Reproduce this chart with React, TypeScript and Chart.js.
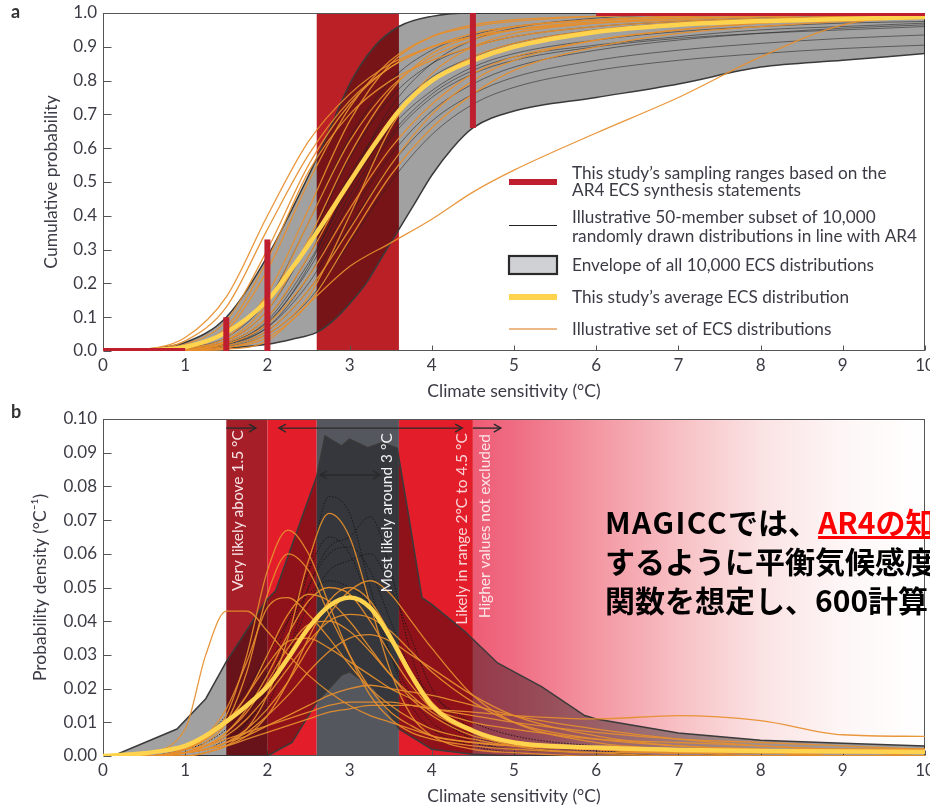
import React, { useEffect, useRef } from 'react';
import { Chart, registerables } from 'chart.js';

Chart.register(...registerables);

const FONT = 'Lato, "Open Sans", sans-serif';

// ---------- shared axis data ----------
const xTickValues = [0, 1, 2, 3, 4, 5, 6, 7, 8, 9, 10];
const yTickLabelsA = ['0.0', '0.1', '0.2', '0.3', '0.4', '0.5', '0.6', '0.7', '0.8', '0.9', '1.0'];
const yTickLabelsB = ['0.00', '0.01', '0.02', '0.03', '0.04', '0.05', '0.06', '0.07', '0.08', '0.09', '0.10'];

// ---------- panel a : cumulative probability ----------
const gridA = [0, 0.5, 1, 1.5, 2, 2.5, 3, 3.5, 4, 4.5, 5, 6, 7, 8, 9, 10];
const meanAX = [0, 0.5, 1, 1.5, 2, 2.3, 2.6, 3, 3.3, 3.6, 4, 4.5, 5, 6, 7, 8, 9, 10];
const meanA = [0, 0.002, 0.012, 0.055, 0.15, 0.245, 0.35, 0.5, 0.61, 0.71, 0.8, 0.86, 0.9, 0.944, 0.965, 0.976, 0.982, 0.988];

const envLowerAX = [0, 1, 1.5, 2, 2.3, 2.6, 2.8, 3, 3.2, 3.4, 3.6, 3.8, 4, 4.25, 4.5, 5, 6, 7, 8, 9, 10];
const envLowerA = [0, 0.003, 0.008, 0.02, 0.035, 0.055, 0.09, 0.14, 0.2, 0.28, 0.36, 0.44, 0.52, 0.6, 0.66, 0.71, 0.75, 0.79, 0.84, 0.86, 0.88];
const envUpperAX = [0, 0.5, 1, 1.5, 2, 2.3, 2.6, 2.8, 3, 3.3, 3.6, 4, 4.5, 10];
const envUpperA = [0, 0.005, 0.025, 0.1, 0.28, 0.42, 0.57, 0.68, 0.79, 0.9, 0.96, 0.99, 1, 1];

const subsetA1 = [0, 0.001, 0.005, 0.02, 0.08, 0.25, 0.5, 0.72, 0.85, 0.92, 0.955, 0.985, 0.995, 1, 1, 1];
const subsetA2 = [0, 0.001, 0.006, 0.025, 0.1, 0.28, 0.52, 0.7, 0.81, 0.87, 0.91, 0.95, 0.97, 0.98, 0.985, 0.99];
const subsetA3 = [0, 0.001, 0.004, 0.02, 0.07, 0.2, 0.4, 0.58, 0.71, 0.79, 0.84, 0.89, 0.92, 0.94, 0.955, 0.965];
const subsetA4 = [0, 0.002, 0.008, 0.03, 0.12, 0.32, 0.57, 0.75, 0.85, 0.9, 0.93, 0.96, 0.975, 0.985, 0.99, 0.995];
const subsetA5 = [0, 0.001, 0.003, 0.015, 0.06, 0.18, 0.37, 0.55, 0.68, 0.76, 0.81, 0.86, 0.89, 0.91, 0.925, 0.935];
const subsetA6 = [0, 0.001, 0.005, 0.02, 0.09, 0.26, 0.48, 0.66, 0.77, 0.84, 0.88, 0.92, 0.945, 0.96, 0.97, 0.975];
const subsetA7 = [0, 0.001, 0.004, 0.018, 0.07, 0.22, 0.44, 0.63, 0.75, 0.82, 0.86, 0.9, 0.925, 0.94, 0.95, 0.96];
const subsetA8 = [0, 0.002, 0.01, 0.04, 0.15, 0.38, 0.63, 0.8, 0.89, 0.935, 0.96, 0.98, 0.99, 0.995, 1, 1];
const subsetA9 = [0, 0.001, 0.003, 0.012, 0.05, 0.15, 0.32, 0.5, 0.64, 0.73, 0.78, 0.83, 0.86, 0.88, 0.895, 0.905];
const subsetA10 = [0, 0.001, 0.005, 0.022, 0.085, 0.24, 0.46, 0.64, 0.76, 0.83, 0.87, 0.905, 0.93, 0.95, 0.96, 0.97];
const subsetA = [subsetA1, subsetA2, subsetA3, subsetA4, subsetA5, subsetA6, subsetA7, subsetA8, subsetA9, subsetA10];

const orangeA1 = [0, 0.005, 0.04, 0.16, 0.4, 0.62, 0.76, 0.85, 0.9, 0.93, 0.95, 0.97, 0.98, 0.99, 0.995, 1];
const orangeA2 = [0, 0.003, 0.03, 0.13, 0.36, 0.58, 0.74, 0.84, 0.9, 0.93, 0.95, 0.97, 0.985, 0.99, 0.995, 1];
const orangeA3 = [0, 0.002, 0.02, 0.09, 0.3, 0.55, 0.73, 0.84, 0.9, 0.94, 0.96, 0.98, 0.99, 0.995, 0.998, 1];
const orangeA4 = [0, 0.001, 0.01, 0.06, 0.24, 0.5, 0.72, 0.86, 0.93, 0.96, 0.975, 0.99, 0.995, 1, 1, 1];
const orangeA5 = [0, 0.001, 0.008, 0.04, 0.17, 0.42, 0.68, 0.85, 0.93, 0.965, 0.98, 0.99, 0.995, 1, 1, 1];
const orangeA6 = [0, 0, 0.005, 0.03, 0.12, 0.33, 0.58, 0.77, 0.88, 0.93, 0.96, 0.98, 0.99, 0.995, 1, 1];
const orangeA7 = [0, 0, 0.004, 0.025, 0.1, 0.28, 0.5, 0.68, 0.8, 0.87, 0.91, 0.95, 0.97, 0.98, 0.99, 0.995];
const orangeA8 = [0, 0, 0.003, 0.02, 0.08, 0.22, 0.42, 0.6, 0.73, 0.82, 0.87, 0.92, 0.95, 0.97, 0.98, 0.99];
const orangeA9 = [0, 0, 0.002, 0.015, 0.06, 0.18, 0.36, 0.55, 0.7, 0.8, 0.86, 0.92, 0.95, 0.97, 0.98, 0.99];
const orangeA10 = [0, 0, 0.002, 0.01, 0.05, 0.16, 0.4, 0.66, 0.82, 0.9, 0.94, 0.97, 0.985, 0.99, 0.995, 1];
const orangeA11 = [0, 0, 0.001, 0.01, 0.04, 0.14, 0.33, 0.52, 0.66, 0.76, 0.83, 0.9, 0.94, 0.96, 0.975, 0.985];
const orangeA12 = [0, 0, 0.001, 0.005, 0.03, 0.14, 0.25, 0.32, 0.39, 0.47, 0.535, 0.645, 0.75, 0.87, 0.965, 0.995];
const orangeA13 = [0, 0.002, 0.015, 0.07, 0.27, 0.53, 0.7, 0.8, 0.86, 0.9, 0.93, 0.96, 0.975, 0.985, 0.99, 0.995];
const orangeA14 = [0, 0, 0.004, 0.03, 0.14, 0.38, 0.62, 0.78, 0.87, 0.92, 0.95, 0.975, 0.99, 0.995, 1, 1];
const orangeA = [orangeA1, orangeA2, orangeA3, orangeA4, orangeA5, orangeA6, orangeA7, orangeA8, orangeA9, orangeA10, orangeA11, orangeA12, orangeA13, orangeA14];

// AR4 sampling ranges (red bars)
const samplingX = [[0, 1], [1.5, 1.5], [2, 2], [4.5, 4.5], [6, 10]];
const samplingY = [[0, 0], [0, 0.1], [0, 0.33], [0.66, 1], [1, 1]];
const bandA = [2.6, 3.6];

const legendTexts = [
  ['This study’s sampling ranges based on the', 'AR4 ECS synthesis statements'],
  ['Illustrative 50-member subset of 10,000', 'randomly drawn distributions in line with AR4'],
  ['Envelope of all 10,000 ECS distributions'],
  ['This study’s average ECS distribution'],
  ['Illustrative set of ECS distributions'],
];

// ---------- panel b : probability density ----------
const gridB = [0, 0.5, 1, 1.25, 1.5, 1.75, 2, 2.25, 2.5, 2.75, 3, 3.25, 3.5, 3.75, 4, 4.5, 5, 6, 7, 8, 9, 10];
const meanB = [0, 0.0008, 0.003, 0.006, 0.0102, 0.015, 0.0206, 0.029, 0.038, 0.0445, 0.047, 0.044, 0.035, 0.024, 0.015, 0.0075, 0.004, 0.0025, 0.0018, 0.0015, 0.0013, 0.0012];

const envUpperBX = [0, 0.12, 0.9, 1.25, 1.5, 1.98, 2.1, 2.6, 2.7, 2.9, 3.0, 3.22, 3.4, 3.58, 3.72, 3.88, 4.0, 4.4, 4.8, 5.34, 5.86, 6, 7, 8, 9, 10];
const envUpperB = [0, 0, 0.008, 0.017, 0.028, 0.046, 0.049, 0.083, 0.095, 0.092, 0.094, 0.0915, 0.093, 0.0913, 0.071, 0.047, 0.045, 0.037, 0.0276, 0.0205, 0.012, 0.011, 0.0068, 0.0047, 0.0038, 0.003];
const envLowerBX = [0, 2.0, 2.3, 2.6, 2.9, 3.0, 3.3, 3.6, 4.0, 4.5, 5, 10];
const envLowerB = [0, 0, 0.004, 0.016, 0.024, 0.025, 0.02, 0.008, 0.002, 0.0005, 0, 0];

const subsetB1 = [0, 0, 0.001, 0.002, 0.004, 0.01, 0.02, 0.035, 0.055, 0.077, 0.072, 0.05, 0.03, 0.015, 0.008, 0.003, 0.001, 0, 0, 0, 0, 0];
const subsetB2 = [0, 0, 0, 0.001, 0.003, 0.007, 0.015, 0.03, 0.05, 0.062, 0.065, 0.071, 0.055, 0.03, 0.015, 0.005, 0.002, 0.001, 0, 0, 0, 0];
const subsetB3 = [0, 0, 0.001, 0.003, 0.006, 0.012, 0.022, 0.035, 0.05, 0.06, 0.062, 0.055, 0.04, 0.025, 0.014, 0.006, 0.003, 0.001, 0, 0, 0, 0];
const subsetB4 = [0, 0, 0.001, 0.002, 0.005, 0.01, 0.018, 0.03, 0.045, 0.055, 0.058, 0.06, 0.05, 0.035, 0.02, 0.008, 0.004, 0.0015, 0.001, 0, 0, 0];
const subsetB5 = [0, 0.001, 0.003, 0.006, 0.012, 0.02, 0.03, 0.04, 0.048, 0.052, 0.05, 0.045, 0.035, 0.025, 0.018, 0.01, 0.006, 0.003, 0.002, 0.001, 0.001, 0.001];
const subsetB6 = [0, 0, 0.002, 0.004, 0.008, 0.015, 0.025, 0.04, 0.055, 0.065, 0.06, 0.045, 0.03, 0.018, 0.01, 0.004, 0.002, 0.001, 0, 0, 0, 0];
const subsetB = [subsetB1, subsetB2, subsetB3, subsetB4, subsetB5, subsetB6];

const orangeB1 = [0, 0, 0.002, 0.005, 0.012, 0.03, 0.055, 0.067, 0.06, 0.045, 0.03, 0.018, 0.011, 0.007, 0.005, 0.003, 0.002, 0.001, 0.001, 0, 0, 0];
const orangeB2 = [0, 0, 0.001, 0.004, 0.01, 0.025, 0.048, 0.06, 0.055, 0.042, 0.03, 0.02, 0.013, 0.009, 0.006, 0.004, 0.003, 0.002, 0.001, 0.001, 0.001, 0.001];
const orangeB3 = [0, 0, 0, 0.001, 0.003, 0.008, 0.018, 0.035, 0.058, 0.072, 0.065, 0.045, 0.025, 0.012, 0.006, 0.002, 0.001, 0, 0, 0, 0, 0];
const orangeB4 = [0, 0.001, 0.008, 0.03, 0.043, 0.043, 0.037, 0.03, 0.024, 0.019, 0.015, 0.012, 0.01, 0.008, 0.006, 0.004, 0.003, 0.002, 0.001, 0.001, 0.001, 0.001];
const orangeB5 = [0, 0, 0.001, 0.002, 0.004, 0.008, 0.014, 0.022, 0.032, 0.042, 0.049, 0.052, 0.048, 0.04, 0.032, 0.018, 0.01, 0.004, 0.002, 0.001, 0.001, 0];
const orangeB6 = [0, 0, 0.001, 0.003, 0.007, 0.014, 0.024, 0.036, 0.046, 0.05, 0.048, 0.04, 0.03, 0.021, 0.014, 0.007, 0.004, 0.002, 0.001, 0.001, 0, 0];
const orangeB7 = [0, 0, 0.002, 0.005, 0.01, 0.018, 0.03, 0.042, 0.048, 0.046, 0.04, 0.032, 0.024, 0.017, 0.012, 0.006, 0.004, 0.002, 0.001, 0.001, 0, 0];
const orangeB8 = [0, 0, 0.001, 0.003, 0.006, 0.011, 0.018, 0.026, 0.034, 0.04, 0.042, 0.041, 0.037, 0.031, 0.025, 0.016, 0.01, 0.005, 0.003, 0.002, 0.001, 0.001];
const orangeB9 = [0, 0, 0.001, 0.002, 0.004, 0.007, 0.012, 0.018, 0.025, 0.031, 0.035, 0.036, 0.034, 0.03, 0.026, 0.018, 0.012, 0.006, 0.003, 0.002, 0.001, 0.001];
const orangeB10 = [0, 0, 0.001, 0.002, 0.004, 0.006, 0.009, 0.012, 0.015, 0.018, 0.02, 0.021, 0.02, 0.019, 0.018, 0.015, 0.012, 0.008, 0.005, 0.003, 0.002, 0.002];
const orangeB11 = [0, 0.001, 0.002, 0.003, 0.005, 0.007, 0.009, 0.011, 0.013, 0.015, 0.016, 0.016, 0.016, 0.015, 0.014, 0.012, 0.01, 0.007, 0.005, 0.004, 0.003, 0.002];
const orangeB12 = [0, 0, 0.001, 0.002, 0.003, 0.005, 0.007, 0.009, 0.011, 0.013, 0.014, 0.015, 0.015, 0.015, 0.014, 0.013, 0.012, 0.011, 0.012, 0.0105, 0.0063, 0.0058];
const orangeB13 = [0, 0, 0.002, 0.006, 0.014, 0.028, 0.044, 0.047, 0.042, 0.035, 0.027, 0.02, 0.015, 0.011, 0.008, 0.005, 0.003, 0.002, 0.001, 0.001, 0, 0];
const orangeB14 = [0, 0, 0.001, 0.003, 0.007, 0.013, 0.022, 0.032, 0.039, 0.04, 0.037, 0.031, 0.024, 0.018, 0.013, 0.007, 0.004, 0.002, 0.001, 0.001, 0, 0];
const orangeB15 = [0, 0, 0, 0.001, 0.003, 0.006, 0.012, 0.022, 0.035, 0.046, 0.05, 0.046, 0.036, 0.025, 0.016, 0.007, 0.003, 0.001, 0, 0, 0, 0];
const orangeB16 = [0, 0, 0.002, 0.005, 0.01, 0.018, 0.027, 0.034, 0.035, 0.032, 0.028, 0.024, 0.02, 0.017, 0.014, 0.01, 0.008, 0.005, 0.004, 0.003, 0.002, 0.002];
const orangeB = [orangeB1, orangeB2, orangeB3, orangeB4, orangeB5, orangeB6, orangeB7, orangeB8, orangeB9, orangeB10, orangeB11, orangeB12, orangeB13, orangeB14, orangeB15, orangeB16];

// AR4 statement bands
const bandsBFrom = [1.5, 2, 2.6, 3.6];
const bandsBTo = [2, 2.6, 3.6, 4.5];
const bandsBColor = ['#A51E28', '#E31E2A', '#55575F', '#E31E2A'];
const tailBand = [4.5, 10];

const statementLabels = ['Very likely above 1.5 °C', 'Most likely around 3 °C', 'Likely in range 2°C to 4.5 °C', 'Higher values not excluded'];
const statementX = [1.64, 3.45, 4.37, 4.65];
const statementTop = [0.0967, 0.0958, 0.0958, 0.0955];
const statementColor = ['#F6E4E5', '#F2F2F4', '#FAD3D6', '#FCE6E8'];

const arrowFrom = [1.5, 2.14, 4.5, 2.64];
const arrowTo = [1.86, 4.37, 4.84, 3.37];
const arrowY = [0.0973, 0.0973, 0.0973, 0.0834];
const arrowBoth = [false, true, false, true];

// ---------- colours ----------
const RED_BAR = '#BE1E2D';
const ORANGE = 'rgba(230,142,45,0.92)';
const YELLOW = '#FFD34E';
const ENV_FILL = 'rgba(0,0,0,0.37)';
const ENV_LINE = '#3a3a3a';
const TEXT = '#3b3b45';

const pts = (xs: number[], ys: number[]) => xs.map((x, i) => ({ x, y: ys[i] }));

function drawFrame(chart: any, yLabels: string[]) {
  const { ctx, chartArea: ca, scales } = chart;
  const x = scales.x, y = scales.y;
  ctx.save();
  ctx.strokeStyle = '#555';
  ctx.lineWidth = 1;
  const l = Math.round(ca.left) + 0.5, t = Math.round(ca.top) + 0.5;
  const r = Math.round(ca.right) - 0.5, b = Math.round(ca.bottom) - 0.5;
  ctx.strokeRect(l, t, r - l, b - t);
  ctx.beginPath();
  xTickValues.forEach((v) => {
    const px = Math.round(x.getPixelForValue(v)) + 0.5;
    ctx.moveTo(px, b);
    ctx.lineTo(px, b - 5);
  });
  yLabels.forEach((lab) => {
    const py = Math.round(y.getPixelForValue(parseFloat(lab))) + 0.5;
    ctx.moveTo(l, py);
    ctx.lineTo(l + 8, py);
  });
  ctx.stroke();
  ctx.restore();
}

function drawLabels(chart: any, yLabels: string[], xTitle: string, yTitle: string, yTitleX: number, panel: string, panelY: number) {
  const { ctx, chartArea: ca, scales } = chart;
  const x = scales.x, y = scales.y;
  ctx.save();
  ctx.fillStyle = TEXT;
  ctx.font = `17px ${FONT}`;
  ctx.textAlign = 'center';
  ctx.textBaseline = 'top';
  xTickValues.forEach((v) => ctx.fillText(String(v), x.getPixelForValue(v), ca.bottom + 6));
  ctx.textAlign = 'right';
  ctx.textBaseline = 'middle';
  yLabels.forEach((lab) => ctx.fillText(lab, ca.left - 6, y.getPixelForValue(parseFloat(lab))));
  ctx.font = `17.5px ${FONT}`;
  ctx.textAlign = 'center';
  ctx.fillText(xTitle, (ca.left + ca.right) / 2, ca.bottom + 40);
  ctx.save();
  ctx.translate(yTitleX, (ca.top + ca.bottom) / 2);
  ctx.rotate(-Math.PI / 2);
  ctx.fillText(yTitle, 0, 0);
  ctx.restore();
  ctx.font = `bold 18px ${FONT}`;
  ctx.fillStyle = '#333';
  ctx.textAlign = 'left';
  ctx.fillText(panel, 11, panelY);
  ctx.restore();
}

const panelAPlugin = {
  id: 'panelA',
  beforeDatasetsDraw(chart: any) {
    const { ctx, chartArea: ca, scales } = chart;
    const x = scales.x;
    ctx.save();
    ctx.fillStyle = '#BB2026';
    const x0 = x.getPixelForValue(bandA[0]);
    const x1 = x.getPixelForValue(bandA[1]);
    ctx.fillRect(x0, ca.top, x1 - x0, ca.bottom - ca.top);
    ctx.restore();
    drawFrame(chart, yTickLabelsA);
  },
  afterDatasetsDraw(chart: any) {
    drawLabels(chart, yTickLabelsA, 'Climate sensitivity (°C)', 'Cumulative probability', 51, 'a', 12);
    const { ctx } = chart;
    ctx.save();
    const sx0 = 509, sx1 = 557, tx = 572;
    const rows = [
      { y: 182, ty: [173, 190] },
      { y: 225, ty: [217, 236] },
      { y: 265, ty: [265] },
      { y: 297, ty: [297] },
      { y: 329, ty: [329] },
    ];
    ctx.lineCap = 'butt';
    ctx.strokeStyle = RED_BAR; ctx.lineWidth = 6;
    ctx.beginPath(); ctx.moveTo(sx0, rows[0].y); ctx.lineTo(sx1, rows[0].y); ctx.stroke();
    ctx.strokeStyle = '#222'; ctx.lineWidth = 1;
    ctx.beginPath(); ctx.moveTo(sx0, rows[1].y + 0.5); ctx.lineTo(sx1, rows[1].y + 0.5); ctx.stroke();
    ctx.fillStyle = '#D0D1D4'; ctx.fillRect(sx0, 256, sx1 - sx0, 18);
    ctx.strokeStyle = '#2a2a2a'; ctx.lineWidth = 2.2; ctx.strokeRect(sx0, 256, sx1 - sx0, 18);
    ctx.strokeStyle = YELLOW; ctx.lineWidth = 6;
    ctx.beginPath(); ctx.moveTo(sx0, rows[3].y); ctx.lineTo(sx1, rows[3].y); ctx.stroke();
    ctx.strokeStyle = '#E9A060'; ctx.lineWidth = 1.5;
    ctx.beginPath(); ctx.moveTo(sx0, rows[4].y); ctx.lineTo(sx1, rows[4].y); ctx.stroke();
    ctx.fillStyle = TEXT;
    ctx.font = `17.2px ${FONT}`;
    ctx.textAlign = 'left';
    ctx.textBaseline = 'middle';
    legendTexts.forEach((lines, i) => lines.forEach((ln, j) => ctx.fillText(ln, tx, rows[i].ty[j])));
    ctx.restore();
  },
};

const panelBPlugin = {
  id: 'panelB',
  beforeDatasetsDraw(chart: any) {
    const { ctx, chartArea: ca, scales } = chart;
    const x = scales.x;
    ctx.save();
    bandsBFrom.forEach((f, i) => {
      const x0 = x.getPixelForValue(f);
      const x1 = x.getPixelForValue(bandsBTo[i]);
      ctx.fillStyle = bandsBColor[i];
      ctx.fillRect(x0, ca.top, x1 - x0, ca.bottom - ca.top);
    });
    const g0 = x.getPixelForValue(tailBand[0]);
    const g1 = x.getPixelForValue(tailBand[1]);
    const grad = ctx.createLinearGradient(g0, 0, g1, 0);
    grad.addColorStop(0, '#EE5C75');
    grad.addColorStop(0.09, '#EF6C82');
    grad.addColorStop(0.27, '#F396A2');
    grad.addColorStop(0.45, '#F7BFC3');
    grad.addColorStop(0.64, '#FBE3E4');
    grad.addColorStop(0.82, '#FEF6F6');
    grad.addColorStop(1, '#FFFFFF');
    ctx.fillStyle = grad;
    ctx.fillRect(g0, ca.top, g1 - g0, ca.bottom - ca.top);
    ctx.restore();
    drawFrame(chart, yTickLabelsB);
  },
  afterDatasetsDraw(chart: any) {
    const { ctx, scales } = chart;
    const x = scales.x, y = scales.y;
    ctx.save();
    ctx.font = `15.5px ${FONT}`;
    ctx.textAlign = 'right';
    ctx.textBaseline = 'middle';
    statementLabels.forEach((lab, i) => {
      ctx.save();
      ctx.translate(x.getPixelForValue(statementX[i]), y.getPixelForValue(statementTop[i]));
      ctx.rotate(-Math.PI / 2);
      ctx.fillStyle = statementColor[i];
      ctx.fillText(lab, 0, 0);
      ctx.restore();
    });
    ctx.strokeStyle = '#2a2a2a';
    ctx.lineWidth = 1.4;
    const head = (px: number, py: number, dir: number) => {
      ctx.beginPath();
      ctx.moveTo(px - dir * 7, py - 4);
      ctx.lineTo(px, py);
      ctx.lineTo(px - dir * 7, py + 4);
      ctx.stroke();
    };
    arrowFrom.forEach((f, i) => {
      const p0 = x.getPixelForValue(f), p1 = x.getPixelForValue(arrowTo[i]);
      const py = y.getPixelForValue(arrowY[i]);
      ctx.beginPath(); ctx.moveTo(p0, py); ctx.lineTo(p1, py); ctx.stroke();
      head(p1, py, 1);
      if (arrowBoth[i]) head(p0, py, -1);
    });
    ctx.restore();
    drawLabels(chart, yTickLabelsB, 'Climate sensitivity (°C)', 'Probability density (°C⁻¹)', 40, 'b', 8);
  },
};

function baseOptions(pad: any, yMax: number) {
  return {
    responsive: false,
    animation: false as const,
    events: [],
    layout: { padding: pad },
    plugins: { legend: { display: false }, tooltip: { enabled: false } },
    scales: {
      x: { type: 'linear' as const, min: 0, max: 10, display: false },
      y: { type: 'linear' as const, min: 0, max: yMax, display: false },
    },
    elements: { point: { radius: 0 }, line: { borderCapStyle: 'butt' as const } },
  };
}

export default function App() {
  const refA = useRef<HTMLCanvasElement>(null);
  const refB = useRef<HTMLCanvasElement>(null);

  useEffect(() => {
    document.body.style.margin = '0';
    const dsA: any[] = [
      ...samplingX.map((xs, i) => ({ data: pts(xs, samplingY[i]), borderColor: RED_BAR, borderWidth: 6, order: 1 })),
      { data: pts(meanAX, meanA), borderColor: YELLOW, borderWidth: 4.5, cubicInterpolationMode: 'monotone', order: 2 },
      ...orangeA.map((ys) => ({ data: pts(gridA, ys), borderColor: ORANGE, borderWidth: 1.3, cubicInterpolationMode: 'monotone', order: 3 })),
      ...subsetA.map((ys) => ({ data: pts(gridA, ys), borderColor: 'rgba(35,35,35,0.7)', borderWidth: 0.8, cubicInterpolationMode: 'monotone', order: 4 })),
      { data: pts(envLowerAX, envLowerA), borderColor: ENV_LINE, borderWidth: 1.5, fill: '+1', backgroundColor: ENV_FILL, cubicInterpolationMode: 'monotone', order: 6 },
      { data: pts(envUpperAX, envUpperA), borderColor: ENV_LINE, borderWidth: 1.5, fill: false, cubicInterpolationMode: 'monotone', order: 5 },
    ];
    const chartA = new Chart(refA.current as HTMLCanvasElement, {
      type: 'line',
      data: { datasets: dsA },
      options: baseOptions({ left: 103, top: 13, right: 5, bottom: 53 }, 1) as any,
      plugins: [panelAPlugin],
    });

    const dsB: any[] = [
      { data: pts(gridB, meanB), borderColor: YELLOW, borderWidth: 4.5, cubicInterpolationMode: 'monotone', order: 2 },
      ...orangeB.map((ys) => ({ data: pts(gridB, ys), borderColor: ORANGE, borderWidth: 1.3, cubicInterpolationMode: 'monotone', order: 3 })),
      ...subsetB.map((ys) => ({ data: pts(gridB, ys), borderColor: 'rgba(20,20,20,0.85)', borderWidth: 1, borderDash: [1.5, 1.5], cubicInterpolationMode: 'monotone', order: 4 })),
      { data: pts(envLowerBX, envLowerB), borderColor: ENV_LINE, borderWidth: 1.5, fill: '+1', backgroundColor: ENV_FILL, order: 6 },
      { data: pts(envUpperBX, envUpperB), borderColor: ENV_LINE, borderWidth: 1.5, fill: false, order: 5 },
    ];
    const chartB = new Chart(refB.current as HTMLCanvasElement, {
      type: 'line',
      data: { datasets: dsB },
      options: baseOptions({ left: 103, top: 15, right: 5, bottom: 52 }, 0.1) as any,
      plugins: [panelBPlugin],
    });
    return () => {
      chartA.destroy();
      chartB.destroy();
    };
  }, []);

  const jp: React.CSSProperties = {
    position: 'absolute',
    left: 605,
    top: 502,
    fontFamily: '"Noto Sans CJK JP", sans-serif',
    fontWeight: 'bold',
    fontSize: 30,
    lineHeight: '39px',
    color: '#000',
    whiteSpace: 'nowrap',
  };

  return (
    <div style={{ position: 'absolute', left: 0, top: 0, width: 930, height: 808, overflow: 'hidden', background: '#fff' }}>
      <canvas ref={refA} width={930} height={404} style={{ position: 'absolute', left: 0, top: 0 }} />
      <canvas ref={refB} width={930} height={404} style={{ position: 'absolute', left: 0, top: 404 }} />
      <div style={jp}>
        <div>
          <span style={{ letterSpacing: 1.5 }}>MAGICC</span>では、<span style={{ color: '#FF0000', textDecoration: 'underline' }}>AR4の知見</span>に整合
        </div>
        <div>するように平衡気候感度の確率密度</div>
        <div>関数を想定し、600計算を実施</div>
      </div>
    </div>
  );
}
